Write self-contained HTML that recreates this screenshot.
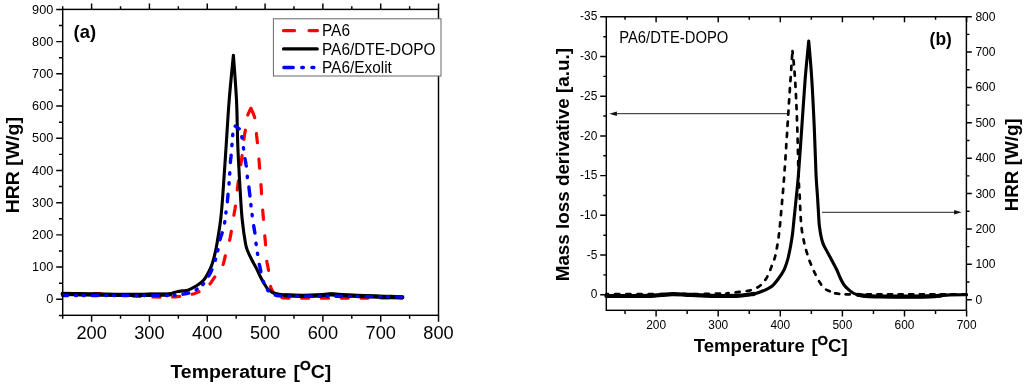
<!DOCTYPE html>
<html><head><meta charset="utf-8"><title>HRR curves</title>
<style>
html,body{margin:0;padding:0;background:#fff;}
svg{display:block;}
text{font-family:'Liberation Sans', Arial, Helvetica, sans-serif;fill:#000;}
.b{font-weight:bold;}
</style></head><body>
<svg width="1024" height="385" viewBox="0 0 1024 385">
<rect x="0" y="0" width="1024" height="385" fill="#fff"/>

<path d="M62.70,315.3v3.4M62.70,9.4v-3.2M91.61,315.3v6.4M91.61,9.4v-5.8M120.52,315.3v3.4M120.52,9.4v-3.2M149.43,315.3v6.4M149.43,9.4v-5.8M178.34,315.3v3.4M178.34,9.4v-3.2M207.25,315.3v6.4M207.25,9.4v-5.8M236.16,315.3v3.4M236.16,9.4v-3.2M265.07,315.3v6.4M265.07,9.4v-5.8M293.98,315.3v3.4M293.98,9.4v-3.2M322.89,315.3v6.4M322.89,9.4v-5.8M351.80,315.3v3.4M351.80,9.4v-3.2M380.71,315.3v6.4M380.71,9.4v-5.8M409.62,315.3v3.4M409.62,9.4v-3.2M438.53,315.3v6.4M438.53,9.4v-5.8M62.7,315.41h-3.8M62.7,299.30h-6.5M62.7,283.19h-3.8M62.7,267.09h-6.5M62.7,250.99h-3.8M62.7,234.88h-6.5M62.7,218.78h-3.8M62.7,202.67h-6.5M62.7,186.56h-3.8M62.7,170.46h-6.5M62.7,154.36h-3.8M62.7,138.25h-6.5M62.7,122.15h-3.8M62.7,106.04h-6.5M62.7,89.94h-3.8M62.7,73.83h-6.5M62.7,57.73h-3.8M62.7,41.62h-6.5M62.7,25.51h-3.8M62.7,9.41h-6.5" stroke="#000" stroke-width="1.45" fill="none"/>
<path d="M250.9,108.3L250.4,109.3L249.7,110.7L248.9,112.4L248.1,114.2L247.8,115.1M245.4,130.2L245.0,132.3L244.6,134.6L244.3,136.9L243.9,139.3M242.1,155.6L241.8,157.8L241.5,160.1L241.1,162.4L240.8,164.6M238.4,180.8L238.2,182.4L237.9,184.7L237.6,187.0L237.3,189.3L237.2,189.9M235.4,206.2L235.1,208.2L234.7,210.5L234.3,212.7L233.9,215.0L233.9,215.2M231.3,231.4L231.0,233.2L230.6,235.4L230.2,237.5L229.7,239.8L229.6,240.3M225.3,255.8L225.0,257.0L224.5,259.3L224.0,261.5L223.4,263.7L223.1,264.5M214.8,277.0L214.0,278.1L212.7,280.0L211.5,281.9L210.2,283.6L210.0,283.8M199.0,291.7L197.6,292.3L195.8,293.1L194.0,293.7L192.2,294.2M179.7,296.4L177.5,296.6L174.8,296.8L172.6,297.0M159.9,297.2L154.0,297.0L152.8,297.0M140.1,296.5L133.1,296.2M120.4,295.5L117.1,295.3L113.3,295.0M100.7,293.8L98.3,293.7L95.4,293.6L93.6,293.6M80.9,293.7L78.1,293.8L73.8,294.0M250.9,108.3L251.5,109.7L252.4,111.6L253.4,113.9L254.3,116.3L254.7,117.6M256.4,133.6L256.6,135.5L256.9,137.8L257.1,140.1L257.4,142.5L257.4,142.7M258.9,159.1L259.1,161.0L259.3,163.3L259.4,165.6L259.6,168.0L259.7,168.2M261.0,184.6L261.1,186.7L261.3,189.1L261.4,191.4L261.5,193.8L261.5,193.8M262.7,210.2L262.8,211.5L263.0,213.8L263.2,216.1L263.4,218.5L263.5,219.4M264.8,235.8L265.0,238.0L265.2,240.2L265.4,242.5L265.6,244.9M266.8,261.3L267.0,262.5L267.5,264.6L267.9,266.8L268.3,269.0L268.5,270.3M270.6,286.5L271.0,287.8L271.7,289.4L272.3,290.7L273.0,292.0L273.8,293.1L274.6,293.9M281.9,297.7L283.0,297.8L285.2,298.0L287.4,298.1L289.0,298.1M301.7,298.2L307.9,298.2L308.7,298.2M321.4,298.2L328.3,298.2L328.5,298.2M341.2,298.1L348.3,298.1M361.0,298.1L367.2,298.1L368.0,298.1M380.7,298.0L387.8,298.0M400.5,298.0L402.3,298.0" stroke="#ff0000" stroke-width="3.2" fill="none" stroke-linejoin="round" stroke-linecap="round"/>
<path d="M62.70,293.60C65.58,293.65 73.78,293.78 80.00,293.90C86.22,294.02 91.67,294.18 100.00,294.30C108.33,294.42 121.67,294.58 130.00,294.60C138.33,294.62 144.17,294.45 150.00,294.40C155.83,294.35 161.67,294.37 165.00,294.30C168.33,294.23 168.50,294.28 170.00,294.00C171.50,293.72 172.67,293.02 174.00,292.60C175.33,292.18 176.50,291.78 178.00,291.50C179.50,291.22 181.33,291.13 183.00,290.90C184.67,290.67 185.90,290.87 188.00,290.10C190.10,289.33 192.97,287.98 195.60,286.30C198.22,284.62 201.25,283.05 203.75,280.00C206.25,276.95 208.82,272.00 210.60,268.00C212.38,264.00 213.35,260.00 214.40,256.00C215.45,252.00 215.87,250.00 216.90,244.00C217.93,238.00 219.62,228.00 220.60,220.00C221.57,212.00 221.85,208.00 222.75,196.00C223.65,184.00 224.93,164.00 226.00,148.00C227.07,132.00 227.97,115.47 229.20,100.00C230.43,84.53 232.70,62.67 233.40,55.20C233.92,62.67 235.75,84.53 236.50,100.00C237.25,115.47 237.23,132.00 237.90,148.00C238.57,164.00 239.78,184.00 240.50,196.00C241.22,208.00 241.40,212.00 242.25,220.00C243.10,228.00 244.62,238.67 245.60,244.00C246.57,249.33 247.05,249.33 248.10,252.00C249.15,254.67 250.54,257.33 251.90,260.00C253.26,262.67 254.90,265.33 256.25,268.00C257.60,270.67 258.64,273.33 260.00,276.00C261.36,278.67 263.15,281.88 264.40,284.00C265.65,286.12 266.57,287.63 267.50,288.75C268.43,289.87 268.96,289.99 270.00,290.70C271.04,291.41 271.25,292.28 273.75,293.00C276.25,293.72 280.12,294.58 285.00,295.00C289.88,295.42 297.17,295.50 303.00,295.50C308.83,295.50 315.33,295.23 320.00,295.00C324.67,294.77 326.83,294.10 331.00,294.10C335.17,294.10 339.33,294.72 345.00,295.00C350.67,295.28 358.50,295.55 365.00,295.80C371.50,296.05 377.78,296.30 384.00,296.50C390.22,296.70 399.25,296.92 402.30,297.00" stroke="#000" stroke-width="3.1" fill="none" stroke-linejoin="round" stroke-linecap="round"/>
<path d="M62.70,293.60C65.58,293.65 73.78,293.78 80.00,293.90C86.22,294.02 91.67,294.18 100.00,294.30C108.33,294.42 121.67,294.58 130.00,294.60C138.33,294.62 144.17,294.45 150.00,294.40C155.83,294.35 161.67,294.37 165.00,294.30C168.33,294.23 169.17,294.05 170.00,294.00" stroke="#000" stroke-width="4.3" fill="none" stroke-linecap="round" transform="translate(0,0.35)"/>
<path d="M285.00,295.00C288.00,295.08 297.17,295.50 303.00,295.50C308.83,295.50 315.33,295.23 320.00,295.00C324.67,294.77 326.83,294.10 331.00,294.10C335.17,294.10 339.33,294.72 345.00,295.00C350.67,295.28 358.50,295.55 365.00,295.80C371.50,296.05 377.78,296.30 384.00,296.50C390.22,296.70 399.25,296.92 402.30,297.00" stroke="#000" stroke-width="4.3" fill="none" stroke-linecap="round" transform="translate(0,0.3)"/>
<path d="M232.8,134.3L232.7,135.6M232.0,144.3L231.9,145.6M231.1,155.1L231.0,156.7L230.7,158.9L230.5,161.1L230.4,162.5M229.8,172.8L229.7,174.1M229.1,182.7L229.0,184.0M228.0,194.3L227.9,196.0L227.7,198.0L227.5,200.0L227.4,201.7M226.0,211.9L225.9,213.0L225.9,213.1M224.8,221.7L224.6,222.9L224.6,223.0M222.2,232.8L221.9,233.8L221.2,235.7L220.6,237.6L220.0,239.5L219.9,239.7M218.0,249.7L217.7,250.9M215.6,259.2L215.3,260.2L215.3,260.4M211.9,269.7L211.3,271.1L210.4,272.9L209.5,274.6L208.7,276.0M203.5,283.7L202.8,284.6M197.1,289.1L196.3,289.6L196.2,289.7M188.7,293.0L187.3,293.3L185.4,293.8L183.3,294.1L183.0,294.2M175.1,295.1L174.1,295.2M167.4,295.5L166.4,295.5M158.5,295.6L154.9,295.6L152.7,295.6M144.8,295.6L143.8,295.6M137.1,295.6L136.1,295.6M128.2,295.6L123.3,295.6L122.4,295.6M114.5,295.6L113.5,295.6M106.8,295.6L105.8,295.6M97.9,295.6L92.1,295.6M84.2,295.6L83.2,295.5M76.5,295.5L75.5,295.5M67.6,295.5L62.7,295.5M235.2,126.1L239.2,128.9M241.8,136.8L242.0,138.1M243.4,147.8L243.6,149.1M245.0,158.7L245.3,160.4L245.7,162.4L246.0,164.5L246.3,166.0M247.3,176.2L247.4,177.5M248.9,186.9L249.0,188.1L249.3,190.5L249.6,193.1L249.9,195.5L249.9,196.1M250.9,204.5L251.0,205.8M252.1,214.4L252.2,215.7M253.7,225.8L254.0,227.9L254.4,230.1L254.8,232.4L254.9,233.1M256.0,243.3L256.2,244.6M257.5,253.1L257.6,254.4L257.7,254.4M259.3,264.5L259.6,265.5L260.0,267.4L260.4,269.3L260.8,271.1L260.9,271.7M263.3,281.5L263.7,282.5L263.7,282.7M267.5,289.9L267.8,290.4L268.2,290.8M275.3,295.1L276.0,295.3L276.5,295.5L277.5,295.7L280.0,295.9L281.0,295.9M288.9,296.1L289.9,296.1M296.6,296.1L297.6,296.1M305.5,296.2L311.3,296.2M319.2,296.2L320.2,296.2M326.9,296.2L327.9,296.2M335.8,296.3L341.6,296.3M349.5,296.4L350.5,296.4M357.2,296.5L358.2,296.5M366.1,296.6L371.9,296.6M379.8,296.7L380.8,296.7M387.5,296.8L388.5,296.8M396.4,296.9L402.2,297.0" stroke="#0000ff" stroke-width="3.4" fill="none" stroke-linejoin="round" stroke-linecap="round"/>
<rect x="62.7" y="9.4" width="375.80" height="305.90" fill="none" stroke="#000" stroke-width="1.45"/>
<text x="91.61" y="339.2" font-size="18.2" text-anchor="middle">200</text>
<text x="149.43" y="339.2" font-size="18.2" text-anchor="middle">300</text>
<text x="207.25" y="339.2" font-size="18.2" text-anchor="middle">400</text>
<text x="265.07" y="339.2" font-size="18.2" text-anchor="middle">500</text>
<text x="322.89" y="339.2" font-size="18.2" text-anchor="middle">600</text>
<text x="380.71" y="339.2" font-size="18.2" text-anchor="middle">700</text>
<text x="438.53" y="339.2" font-size="18.2" text-anchor="middle">800</text>
<text transform="translate(53.30,303.40) scale(1,1.06)" font-size="12.7" text-anchor="end">0</text>
<text transform="translate(53.30,271.19) scale(1,1.06)" font-size="12.7" text-anchor="end">100</text>
<text transform="translate(53.30,238.98) scale(1,1.06)" font-size="12.7" text-anchor="end">200</text>
<text transform="translate(53.30,206.77) scale(1,1.06)" font-size="12.7" text-anchor="end">300</text>
<text transform="translate(53.30,174.56) scale(1,1.06)" font-size="12.7" text-anchor="end">400</text>
<text transform="translate(53.30,142.35) scale(1,1.06)" font-size="12.7" text-anchor="end">500</text>
<text transform="translate(53.30,110.14) scale(1,1.06)" font-size="12.7" text-anchor="end">600</text>
<text transform="translate(53.30,77.93) scale(1,1.06)" font-size="12.7" text-anchor="end">700</text>
<text transform="translate(53.30,45.72) scale(1,1.06)" font-size="12.7" text-anchor="end">800</text>
<text transform="translate(53.30,13.51) scale(1,1.06)" font-size="12.7" text-anchor="end">900</text>
<text class="b" transform="translate(170.4,377.9) scale(1.04,1)" font-size="18.7" word-spacing="1.4">Temperature [<tspan font-size="13.3" dy="-7.6" stroke="#000" stroke-width="0.35">O</tspan><tspan dy="7.6">C]</tspan></text>
<text class="b" transform="translate(19.1,213.3) rotate(-90) scale(1.04,1)" font-size="18.75">HRR [W/g]</text>
<text class="b" x="73.6" y="37.5" font-size="18.4">(a)</text>
<rect x="273.4" y="18.8" width="167.6" height="57.2" fill="#fff" stroke="#666" stroke-width="1"/>
<path d="M283.5,30.6H317.4" stroke="#ff0000" stroke-width="3.4" stroke-dasharray="11 14.6" stroke-linecap="round" fill="none"/>
<path d="M283.6,48.9H317.2" stroke="#000" stroke-width="3.4" stroke-linecap="round" fill="none"/>
<path d="M283.9,67.6H293.2M301.8,67.6H303.3M312,67.6H313.8" stroke="#0000ff" stroke-width="3.5" stroke-linecap="round" fill="none"/>
<text transform="translate(322.00,35.80) scale(1,1.08)" font-size="15.4" text-anchor="start">PA6</text>
<text transform="translate(322.00,54.50) scale(1,1.08)" font-size="15.4" text-anchor="start">PA6/DTE-DOPO</text>
<text transform="translate(322.00,73.20) scale(1,1.08)" font-size="15.4" text-anchor="start">PA6/Exolit</text>
<path d="M625.05,310.3v3.6M625.05,16.75v3.0M656.10,310.3v6.2M656.10,16.75v5.6M687.15,310.3v3.6M687.15,16.75v3.0M718.20,310.3v6.2M718.20,16.75v5.6M749.25,310.3v3.6M749.25,16.75v3.0M780.30,310.3v6.2M780.30,16.75v5.6M811.35,310.3v3.6M811.35,16.75v3.0M842.40,310.3v6.2M842.40,16.75v5.6M873.45,310.3v3.6M873.45,16.75v3.0M904.50,310.3v6.2M904.50,16.75v5.6M935.55,310.3v3.6M935.55,16.75v3.0M966.60,310.3v6.2M966.60,16.75v5.6M606.3,16.80h-6.1M606.3,36.65h-3.0M606.3,56.50h-6.1M606.3,76.35h-3.0M606.3,96.20h-6.1M606.3,116.05h-3.0M606.3,135.90h-6.1M606.3,155.75h-3.0M606.3,175.60h-6.1M606.3,195.45h-3.0M606.3,215.30h-6.1M606.3,235.15h-3.0M606.3,255.00h-6.1M606.3,274.85h-3.0M606.3,294.70h-6.1M966.4,299.70h5.4M966.4,282.01h3.1M966.4,264.32h5.4M966.4,246.64h3.1M966.4,228.95h5.4M966.4,211.26h3.1M966.4,193.57h5.4M966.4,175.89h3.1M966.4,158.20h5.4M966.4,140.51h3.1M966.4,122.82h5.4M966.4,105.14h3.1M966.4,87.45h5.4M966.4,69.76h3.1M966.4,52.07h5.4M966.4,34.39h3.1M966.4,16.70h5.4" stroke="#000" stroke-width="1.45" fill="none"/>
<path d="M792.2,54.7L791.9,58.8M791.4,65.9L791.2,70.0M790.7,77.0L790.4,81.1M789.9,88.2L789.7,92.3M789.2,99.4L788.9,103.5M788.5,110.6L788.2,114.7M787.8,121.7L787.5,125.8M787.1,132.9L786.8,137.0M786.3,144.1L786.1,148.2M785.6,155.3L785.4,159.4M784.9,166.5L784.6,170.5M784.1,177.6L783.8,181.7M783.2,188.8L783.0,191.6L782.9,192.9M782.2,199.9L782.0,203.0L781.9,204.0M781.2,211.1L780.9,215.2M780.2,222.3L780.0,225.2L779.8,226.3M779.1,233.4L778.8,235.2L778.6,237.5M777.5,244.5L777.2,246.0L776.8,248.5L776.8,248.5M775.4,255.5L775.0,257.0L774.5,258.8L774.3,259.4M771.7,266.0L771.4,267.0L770.7,268.7L770.3,269.9M767.4,276.4L766.9,277.4L766.1,278.8L765.3,279.9M760.7,285.2L759.3,286.3L757.7,287.3L757.3,287.5M750.7,290.2L749.0,290.6L746.7,291.0M739.7,291.9L737.4,292.2L735.6,292.4M728.6,293.2L727.0,293.4L726.2,293.5M720.0,293.6L715.9,293.7M708.8,293.9L704.7,293.9M697.6,294.0L693.5,294.0M686.4,294.0L682.3,294.0M675.2,294.0L671.1,294.0M664.0,294.0L659.9,294.0M652.8,294.0L648.7,294.0M641.6,294.0L637.5,294.0M630.4,294.0L626.3,294.0M619.2,294.0L615.1,294.0M608.0,294.0L606.4,294.0M792.5,51.2L792.7,53.3M793.5,60.4L793.9,64.5L793.9,64.5M794.5,71.6L794.8,75.7M795.3,82.8L795.5,86.9M795.9,94.0L796.1,98.1M796.4,105.1L796.6,109.2M796.9,116.3L797.0,120.4M797.3,127.5L797.4,131.6M797.6,138.7L797.7,142.8M797.9,149.9L798.0,154.0M798.2,161.1L798.2,165.2M798.4,172.3L798.6,176.4M798.9,183.5L799.1,187.5L799.1,187.6M799.6,194.7L799.8,198.0L799.8,198.8M800.1,205.9L800.3,210.0M800.7,217.1L800.9,220.1L800.9,221.1M801.6,228.2L801.8,229.8L802.1,231.8L802.2,232.3M803.5,239.3L803.9,241.2L804.3,243.3M806.1,250.1L806.8,252.4L807.3,254.1M809.5,260.8L809.8,261.5L810.1,262.4L810.6,263.5L811.1,264.6M813.9,271.1L814.6,272.6L815.6,274.6L815.6,274.8M819.0,281.1L819.9,282.6L821.0,284.3L821.1,284.6M826.1,289.6L828.0,290.6L829.8,291.3M835.1,293.3L836.1,293.4L837.6,293.6L839.2,293.8M845.6,294.3L848.4,294.3L849.7,294.4M856.2,294.4L860.3,294.4M866.8,294.4L870.9,294.4M877.4,294.4L881.5,294.4M888.0,294.4L892.1,294.4M898.6,294.4L902.7,294.4M909.2,294.4L913.3,294.4M919.8,294.4L923.9,294.4M930.4,294.4L934.5,294.4M941.0,294.4L945.1,294.4M951.6,294.4L955.7,294.4M962.2,294.4L965.1,294.4L966.3,294.4" stroke="#000" stroke-width="2.7" fill="none" stroke-linejoin="round" stroke-linecap="round"/>
<path d="M606.40,296.00C610.33,296.00 622.73,296.03 630.00,296.00C637.27,295.97 644.67,295.98 650.00,295.80C655.33,295.62 658.25,295.17 662.00,294.90C665.75,294.63 668.67,294.25 672.50,294.20C676.33,294.15 680.42,294.40 685.00,294.60C689.58,294.80 694.17,295.17 700.00,295.40C705.83,295.63 713.54,295.95 720.00,296.00C726.46,296.05 733.12,296.05 738.75,295.70C744.38,295.35 749.38,294.83 753.75,293.90C758.12,292.97 761.88,291.46 765.00,290.10C768.12,288.74 770.21,287.73 772.50,285.75C774.79,283.77 776.88,280.79 778.75,278.25C780.62,275.71 782.49,272.88 783.75,270.50C785.01,268.12 785.57,266.08 786.30,264.00C787.02,261.92 787.38,261.00 788.10,258.00C788.82,255.00 789.87,250.00 790.60,246.00C791.33,242.00 791.98,238.00 792.50,234.00C793.02,230.00 793.13,228.00 793.75,222.00C794.37,216.00 795.41,206.00 796.20,198.00C796.99,190.00 797.55,186.00 798.50,174.00C799.45,162.00 800.77,142.00 801.90,126.00C803.02,110.00 804.11,92.17 805.25,78.00C806.39,63.83 808.17,47.17 808.75,41.00C809.24,47.17 810.79,63.83 811.70,78.00C812.61,92.17 813.48,110.00 814.20,126.00C814.92,142.00 815.43,162.00 816.00,174.00C816.57,186.00 817.10,190.00 817.60,198.00C818.10,206.00 818.65,217.00 819.00,222.00C819.35,227.00 819.43,226.00 819.70,228.00C819.97,230.00 820.23,232.00 820.60,234.00C820.97,236.00 821.35,238.05 821.90,240.00C822.45,241.95 823.00,243.70 823.90,245.70C824.80,247.70 826.18,249.95 827.30,252.00C828.42,254.05 829.52,256.00 830.60,258.00C831.68,260.00 832.70,262.00 833.75,264.00C834.80,266.00 835.77,267.58 836.90,270.00C838.02,272.42 839.36,276.08 840.50,278.50C841.64,280.92 842.50,282.72 843.75,284.50C845.00,286.28 846.46,287.78 848.00,289.20C849.54,290.62 851.33,292.07 853.00,293.00C854.67,293.93 855.83,294.30 858.00,294.80C860.17,295.30 862.33,295.72 866.00,296.00C869.67,296.28 873.50,296.40 880.00,296.50C886.50,296.60 896.67,296.62 905.00,296.60C913.33,296.58 924.08,296.57 930.00,296.40C935.92,296.23 937.17,295.85 940.50,295.60C943.83,295.35 945.65,295.03 950.00,294.90C954.35,294.77 963.83,294.82 966.60,294.80" stroke="#000" stroke-width="3.1" fill="none" stroke-linejoin="round" stroke-linecap="round"/>
<path d="M606.40,296.00C610.33,296.00 622.73,296.03 630.00,296.00C637.27,295.97 644.67,295.98 650.00,295.80C655.33,295.62 658.25,295.17 662.00,294.90C665.75,294.63 668.67,294.25 672.50,294.20C676.33,294.15 680.42,294.40 685.00,294.60C689.58,294.80 694.17,295.17 700.00,295.40C705.83,295.63 713.54,295.95 720.00,296.00C726.46,296.05 733.12,296.05 738.75,295.70C744.38,295.35 751.25,294.20 753.75,293.90" stroke="#000" stroke-width="4.2" fill="none" stroke-linecap="round"/>
<path d="M858.00,294.80C859.33,295.00 862.33,295.72 866.00,296.00C869.67,296.28 873.50,296.40 880.00,296.50C886.50,296.60 896.67,296.62 905.00,296.60C913.33,296.58 924.08,296.57 930.00,296.40C935.92,296.23 938.75,295.73 940.50,295.60" stroke="#000" stroke-width="4.2" fill="none" stroke-linecap="round"/>
<path d="M787.3,113.7H615" stroke="#222" stroke-width="1" fill="none"/>
<path d="M609.3,113.7l7.6,-2.2v4.4z" fill="#111"/>
<path d="M822,212.3H956" stroke="#222" stroke-width="1" fill="none"/>
<path d="M961.7,212.3l-7.6,-2.2v4.4z" fill="#111"/>
<rect x="606.3" y="16.75" width="360.10" height="293.55" fill="none" stroke="#000" stroke-width="1.45"/>
<text transform="translate(656.10,329.10) scale(1,1.08)" font-size="11.9" text-anchor="middle">200</text>
<text transform="translate(718.20,329.10) scale(1,1.08)" font-size="11.9" text-anchor="middle">300</text>
<text transform="translate(780.30,329.10) scale(1,1.08)" font-size="11.9" text-anchor="middle">400</text>
<text transform="translate(842.40,329.10) scale(1,1.08)" font-size="11.9" text-anchor="middle">500</text>
<text transform="translate(904.50,329.10) scale(1,1.08)" font-size="11.9" text-anchor="middle">600</text>
<text transform="translate(966.60,329.10) scale(1,1.08)" font-size="11.9" text-anchor="middle">700</text>
<text transform="translate(597.30,20.40) scale(1,1.08)" font-size="11.9" text-anchor="end">-35</text>
<text transform="translate(597.30,60.10) scale(1,1.08)" font-size="11.9" text-anchor="end">-30</text>
<text transform="translate(597.30,99.80) scale(1,1.08)" font-size="11.9" text-anchor="end">-25</text>
<text transform="translate(597.30,139.50) scale(1,1.08)" font-size="11.9" text-anchor="end">-20</text>
<text transform="translate(597.30,179.20) scale(1,1.08)" font-size="11.9" text-anchor="end">-15</text>
<text transform="translate(597.30,218.90) scale(1,1.08)" font-size="11.9" text-anchor="end">-10</text>
<text transform="translate(597.30,258.60) scale(1,1.08)" font-size="11.9" text-anchor="end">-5</text>
<text transform="translate(597.30,298.30) scale(1,1.08)" font-size="11.9" text-anchor="end">0</text>
<text transform="translate(975.40,303.70) scale(1,1.09)" font-size="12.1" text-anchor="start">0</text>
<text transform="translate(975.40,268.32) scale(1,1.09)" font-size="12.1" text-anchor="start">100</text>
<text transform="translate(975.40,232.95) scale(1,1.09)" font-size="12.1" text-anchor="start">200</text>
<text transform="translate(975.40,197.57) scale(1,1.09)" font-size="12.1" text-anchor="start">300</text>
<text transform="translate(975.40,162.20) scale(1,1.09)" font-size="12.1" text-anchor="start">400</text>
<text transform="translate(975.40,126.82) scale(1,1.09)" font-size="12.1" text-anchor="start">500</text>
<text transform="translate(975.40,91.45) scale(1,1.09)" font-size="12.1" text-anchor="start">600</text>
<text transform="translate(975.40,56.07) scale(1,1.09)" font-size="12.1" text-anchor="start">700</text>
<text transform="translate(975.40,20.70) scale(1,1.09)" font-size="12.1" text-anchor="start">800</text>
<text class="b" transform="translate(693.7,352) scale(1.03,1)" font-size="18.05" word-spacing="1.3">Temperature [<tspan font-size="13" dy="-7.2" stroke="#000" stroke-width="0.35">O</tspan><tspan dy="7.2">C]</tspan></text>
<text class="b" transform="translate(569.0,281.3) rotate(-90) scale(1.043,1)" font-size="18.05">Mass loss derivative [a.u.]</text>
<text class="b" transform="translate(1018.3,211.3) rotate(-90) scale(1.048,1)" font-size="17.95">HRR [W/g]</text>
<text class="b" transform="translate(929.60,45.00) scale(1,1.08)" font-size="17.4" text-anchor="start">(b)</text>
<text transform="translate(619.20,43.30) scale(1,1.06)" font-size="14.8" text-anchor="start">PA6/DTE-DOPO</text>
</svg></body></html>
